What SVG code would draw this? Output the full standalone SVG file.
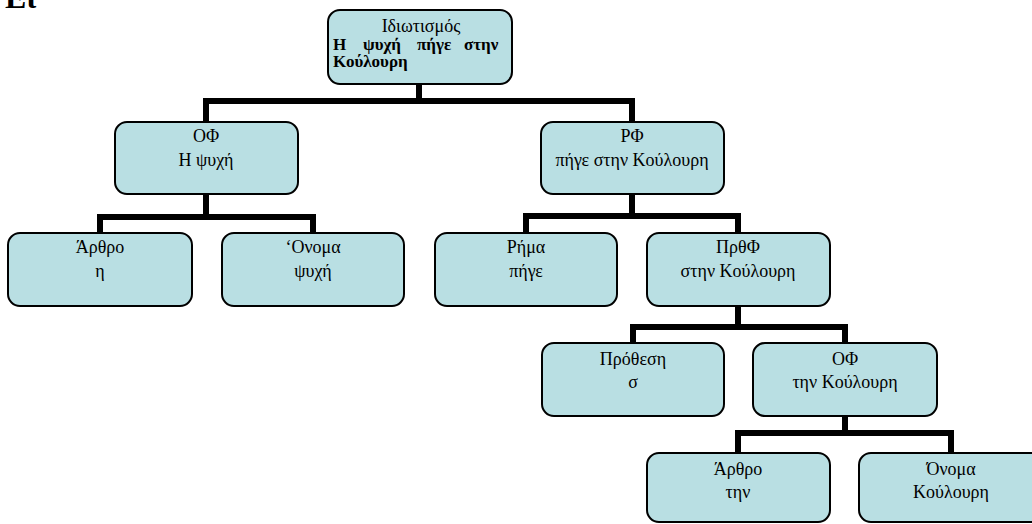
<svg xmlns="http://www.w3.org/2000/svg" width="1032" height="524" viewBox="0 0 1032 524">
<style>
.box{fill:#b9dfe3;stroke:#000;stroke-width:2}
.t{font-family:"Liberation Serif","Times New Roman",serif;font-size:18px;fill:#000;text-anchor:middle}
.b{font-family:"Liberation Serif","Times New Roman",serif;font-size:17px;font-weight:bold;fill:#000}
.c{fill:none;stroke:#000;stroke-width:6;stroke-linejoin:miter;stroke-linecap:butt}
</style>
<rect width="1032" height="524" fill="#fff"/>
<text x="5" y="8" font-family="Liberation Serif, serif" font-size="32" font-weight="bold">Ει</text>
<g id="connectors">
<path class="c" d="M419,84 V101 M206,122 V101 H632 V122"/>
<path class="c" d="M206,194 V217 M100,233 V217 H313 V233"/>
<path class="c" d="M632,194 V216 M526,233 V216 H738 V233"/>
<path class="c" d="M738,306 V327 M633,343 V327 H845 V343"/>
<path class="c" d="M845,416 V433 M738,453 V433 H951 V453"/>
</g>
<g id="root">
<rect class="box" x="328" y="10" width="184" height="74" rx="12"/>
<text class="t" x="421" y="32">Ιδιωτισμός</text>
<text class="b" y="50"><tspan x="333">Η</tspan><tspan x="363">ψυχή</tspan><tspan x="417">πήγε</tspan><tspan x="464">στην</tspan></text>
<text class="b" x="333" y="67">Κούλουρη</text>
</g>
<g id="of1">
<rect class="box" x="115" y="122" width="183" height="72" rx="12"/>
<text class="t" x="206" y="142">ΟΦ</text>
<text class="t" x="206" y="166">Η ψυχή</text>
</g>
<g id="rf">
<rect class="box" x="541" y="122" width="183" height="72" rx="12"/>
<text class="t" x="632" y="142">ΡΦ</text>
<text class="t" x="632" y="166">πήγε στην Κούλουρη</text>
</g>
<g id="arthro1">
<rect class="box" x="8" y="233" width="184" height="73" rx="12"/>
<text class="t" x="100" y="253">Άρθρο</text>
<text class="t" x="100" y="277">η</text>
</g>
<g id="onoma1">
<rect class="box" x="222" y="233" width="182" height="73" rx="12"/>
<text class="t" x="313" y="253">‘Ονομα</text>
<text class="t" x="313" y="277">ψυχή</text>
</g>
<g id="rima">
<rect class="box" x="435" y="233" width="182" height="73" rx="12"/>
<text class="t" x="526" y="253">Ρήμα</text>
<text class="t" x="526" y="277">πήγε</text>
</g>
<g id="prthf">
<rect class="box" x="647" y="233" width="183" height="73" rx="12"/>
<text class="t" x="738" y="253">ΠρθΦ</text>
<text class="t" x="738" y="277">στην Κούλουρη</text>
</g>
<g id="prothesi">
<rect class="box" x="542" y="343" width="182" height="73" rx="12"/>
<text class="t" x="633" y="365">Πρόθεση</text>
<text class="t" x="633" y="388">σ</text>
</g>
<g id="of2">
<rect class="box" x="753" y="343" width="184" height="73" rx="12"/>
<text class="t" x="845" y="365">ΟΦ</text>
<text class="t" x="845" y="388">την Κούλουρη</text>
</g>
<g id="arthro2">
<rect class="box" x="647" y="453" width="183" height="69" rx="12"/>
<text class="t" x="738" y="475">Άρθρο</text>
<text class="t" x="738" y="498">την</text>
</g>
<g id="onoma2">
<rect class="box" x="859" y="453" width="184" height="69" rx="12"/>
<text class="t" x="951" y="475">Όνομα</text>
<text class="t" x="951" y="498">Κούλουρη</text>
</g>
</svg>
